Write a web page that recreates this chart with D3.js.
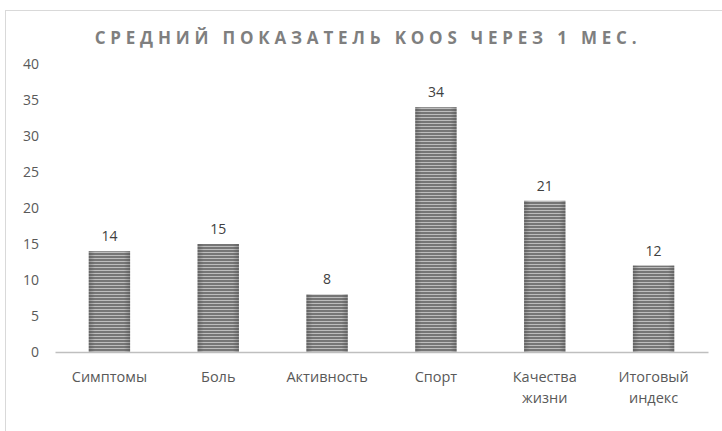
<!DOCTYPE html>
<html>
<head>
<meta charset="utf-8">
<script src="https://cdn.jsdelivr.net/npm/d3@7"></script>
<style>
  html, body { margin: 0; padding: 0; background: #fff; }
  svg { display: block; }
  text { font-family: "Open Sans", "Noto Sans", sans-serif; }
</style>
</head>
<body>
<svg id="chart" width="722" height="431"></svg>
<script>
// KOOS subscale averages one month after surgery
const categories = [["Симптомы"], ["Боль"], ["Активность"], ["Спорт"], ["Качества", "жизни"], ["Итоговый", "индекс"]];
const values = [14, 15, 8, 34, 21, 12];
const yTicks = [0, 5, 10, 15, 20, 25, 30, 35, 40];
const titleText = "СРЕДНИЙ ПОКАЗАТЕЛЬ KOOS ЧЕРЕЗ 1 МЕС.";

const W = 722, H = 431;
const margin = { left: 55, right: 14, top: 64, bottom: 79 };
const svg = d3.select("#chart");

// chart frame
svg.append("rect")
  .attr("x", 5.5).attr("y", 10.5)
  .attr("width", W + 10).attr("height", H + 10)
  .attr("fill", "#fff").attr("stroke", "#d9d9d9").attr("stroke-width", 1);

const x = d3.scaleBand()
  .domain(categories.map((d, i) => i))
  .range([margin.left, W - margin.right])
  .paddingInner(0.62).paddingOuter(0.31);

const y = d3.scaleLinear()
  .domain([0, 40])
  .range([H - margin.bottom, margin.top]);

// striped bar fill: horizontal lines plus a darker shading at the sides
const defs = svg.append("defs");
const pat = defs.append("pattern")
  .attr("id", "stripes")
  .attr("patternUnits", "userSpaceOnUse")
  .attr("width", 8).attr("height", 3);
pat.append("rect").attr("width", 8).attr("height", 3).attr("fill", "#bdbdbd");
pat.append("rect").attr("y", 1).attr("width", 8).attr("height", 2).attr("fill", "#767676");

const grad = defs.append("linearGradient").attr("id", "shade")
  .attr("x1", "0").attr("x2", "1").attr("y1", "0").attr("y2", "0");
[[0, 0.35], [0.15, 0.0], [0.5, 0.0], [0.85, 0.0], [1, 0.35]].forEach(([o, a]) =>
  grad.append("stop").attr("offset", o).attr("stop-color", "#404040").attr("stop-opacity", a));

// Y axis labels (no axis line, no gridlines)
const yAxis = d3.axisLeft(y).tickValues(yTicks).tickSize(0).tickPadding(0);
const gy = svg.append("g").attr("transform", `translate(${39},0)`).call(yAxis);
gy.select(".domain").remove();
gy.selectAll("text")
  .attr("fill", "#595959")
  .style("font-family", "'Liberation Sans Narrow', 'Open Sans', sans-serif")
  .style("font-size", "14px")
  .attr("dy", "0.35em");

// bars
const bars = svg.append("g");
bars.selectAll("rect.bar")
  .data(values)
  .join("rect")
  .attr("class", "bar")
  .attr("x", (d, i) => x(i))
  .attr("y", d => y(d))
  .attr("width", x.bandwidth())
  .attr("height", d => y(0) - y(d))
  .attr("fill", "url(#stripes)");
bars.selectAll("rect.shade")
  .data(values)
  .join("rect")
  .attr("class", "shade")
  .attr("x", (d, i) => x(i))
  .attr("y", d => y(d))
  .attr("width", x.bandwidth())
  .attr("height", d => y(0) - y(d))
  .attr("fill", "url(#shade)");

// value labels
svg.append("g").selectAll("text")
  .data(values)
  .join("text")
  .attr("x", (d, i) => x(i) + x.bandwidth() / 2)
  .attr("y", d => y(d) - 10)
  .attr("text-anchor", "middle")
  .attr("fill", "#404040")
  .style("font-size", "14px")
  .text(d => d);

// X axis baseline and category labels
const xAxis = d3.axisBottom(x).tickSize(0).tickFormat(() => "");
const gx = svg.append("g").attr("transform", `translate(0,${y(0)})`).call(xAxis);
gx.select(".domain").attr("stroke", "#bfbfbf").attr("stroke-width", 1.5);

svg.append("g").selectAll("text")
  .data(categories)
  .join("text")
  .attr("x", (d, i) => x(i) + x.bandwidth() / 2)
  .attr("y", y(0) + 30)
  .attr("text-anchor", "middle")
  .attr("fill", "#595959")
  .style("font-size", "14.5px")
  .each(function(lines) {
    d3.select(this).selectAll("tspan")
      .data(lines)
      .join("tspan")
      .attr("x", d3.select(this).attr("x"))
      .attr("dy", (l, j) => j === 0 ? 0 : 21)
      .text(l => l);
  });

// title
svg.append("text")
  .attr("x", 368).attr("y", 44)
  .attr("text-anchor", "middle")
  .attr("fill", "#7f7f7f")
  .style("font-size", "17px")
  .style("font-weight", "bold")
  .style("letter-spacing", "4.8px")
  .text(titleText);
</script>
</body>
</html>
